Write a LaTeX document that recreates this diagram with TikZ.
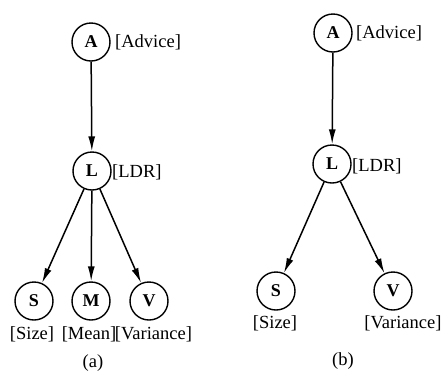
\documentclass[tikz,border=0pt]{standalone}
\usepackage{fontspec}
\setmainfont{Liberation Serif}
\usetikzlibrary{arrows.meta}
\begin{document}
\begin{tikzpicture}[x=1pt,y=-1pt,
  var/.style={draw, circle, minimum size=38pt, inner sep=0pt, line width=1.4pt,
    font=\fontsize{18}{20}\selectfont\bfseries},
  lbl/.style={font=\fontsize{18.5}{20}\selectfont, inner sep=0pt},
  edge/.style={line width=1.5pt, -{Latex[length=15pt,width=7pt]}}
]
\useasboundingbox (0,0) rectangle (444,376);

% ---- network (a): LDR with three children ----
\node[var] (aA) at (91,42)  {A};
\node[var] (aL) at (92,171) {L};
\node[var] (aS) at (34,301) {S};
\node[var] (aM) at (91,301) {M};
\node[var] (aV) at (149,301) {V};

\node[lbl, anchor=west] (aAl) at (115,42)  {[Advice]};
\node[lbl, anchor=west] (aLl) at (112,172) {[LDR]};
\node[lbl] (aSl) at (32,334)  {[Size]};
\node[lbl] (aMl) at (89,334)  {[Mean]};
\node[lbl] (aVl) at (153.5,334) {[Variance]};
\node[lbl] (acap) at (93,363) {(a)};

\draw[edge] (aA) -- (aL);
\draw[edge] (aL) -- (aS);
\draw[edge] (aL) -- (aM);
\draw[edge] (aL) -- (aV);

% ---- network (b): LDR with two children ----
\node[var] (bA) at (333,33)  {A};
\node[var] (bL) at (332,164) {L};
\node[var] (bS) at (276,291) {S};
\node[var] (bV) at (393,291) {V};

\node[lbl, anchor=west] (bAl) at (356,33)  {[Advice]};
\node[lbl, anchor=west] (bLl) at (352,166) {[LDR]};
\node[lbl] (bSl) at (275,323) {[Size]};
\node[lbl] (bVl) at (403,323) {[Variance]};
\node[lbl] (bcap) at (343,361) {(b)};

\draw[edge] (bA) -- (bL);
\draw[edge] (bL) -- (bS);
\draw[edge] (bL) -- (bV);
\end{tikzpicture}
\end{document}
